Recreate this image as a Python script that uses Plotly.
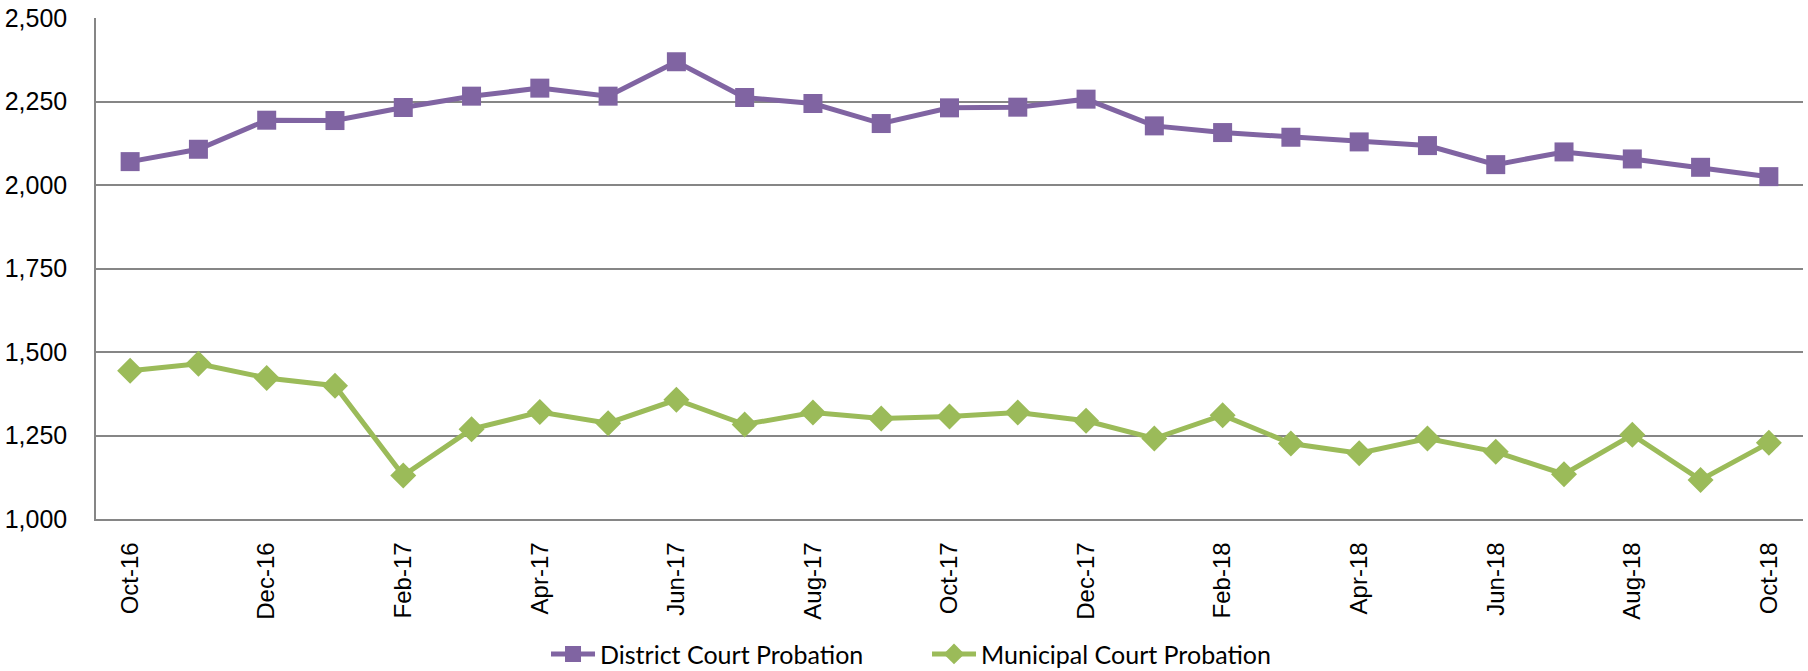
import plotly.graph_objects as go

months = ["Oct-16", "Nov-16", "Dec-16", "Jan-17", "Feb-17", "Mar-17", "Apr-17", "May-17",
          "Jun-17", "Jul-17", "Aug-17", "Sep-17", "Oct-17", "Nov-17", "Dec-17", "Jan-18",
          "Feb-18", "Mar-18", "Apr-18", "May-18", "Jun-18", "Jul-18", "Aug-18", "Sep-18", "Oct-18"]

district = [2070, 2107, 2194, 2193, 2232, 2266, 2290, 2266, 2369, 2262, 2244, 2184, 2231,
            2233, 2257, 2177, 2157, 2143, 2129, 2118, 2061, 2099, 2078, 2053, 2025]

municipal = [1444, 1465, 1422, 1399, 1130, 1269, 1320, 1287, 1357, 1283, 1319, 1301, 1307,
             1319, 1294, 1241, 1311, 1226, 1197, 1241, 1201, 1134, 1252, 1117, 1228]

tick_labels = months[::2]
y_ticks = [1000, 1250, 1500, 1750, 2000, 2250, 2500]

FONT = "Liberation Sans, Arial, sans-serif"

fig = go.Figure()
fig.add_trace(go.Scatter(
    x=months, y=district, name="District Court Probation", mode="lines+markers",
    line=dict(color="#8064A2", width=5),
    marker=dict(symbol="square", size=19, color="#8064A2"),
))
fig.add_trace(go.Scatter(
    x=months, y=municipal, name="Municipal Court Probation", mode="lines+markers",
    line=dict(color="#9BBB59", width=5),
    marker=dict(symbol="diamond", size=20, color="#9BBB59"),
))

fig.update_layout(
    width=1808, height=671,
    margin=dict(l=96, r=5, t=18, b=152),
    plot_bgcolor="white", paper_bgcolor="white",
    font=dict(family=FONT, size=24, color="black"),
    showlegend=True,
    legend=dict(orientation="h", xref="container", yref="container",
                x=0.302, xanchor="left", y=0.025, yanchor="middle",
                font=dict(family="Lato, Liberation Sans, sans-serif", size=25),
                itemwidth=44, entrywidth=322, entrywidthmode="pixels"),
    xaxis=dict(
        type="category", categoryorder="array", categoryarray=months,
        range=[-0.5, len(months) - 0.5], automargin=False,
        tickmode="array", tickvals=tick_labels, ticktext=tick_labels,
        tickangle=-90, showgrid=False, showline=True, linecolor="#868686", linewidth=1.5,
        ticks="", tickfont=dict(size=24), ticklabelstandoff=12,
    ),
    yaxis=dict(
        range=[1000, 2500], tickvals=y_ticks, tickformat=",", automargin=False,
        showgrid=True, gridcolor="#868686", gridwidth=1.5,
        showline=True, linecolor="#868686", linewidth=1.5,
        ticks="", tickfont=dict(size=25), zeroline=False, ticklabelstandoff=22,
    ),
)

fig.write_html(
    "out.html",
    config={"displayModeBar": False},
    post_script="document.body.style.margin='0';document.body.style.overflow='hidden';",
)
